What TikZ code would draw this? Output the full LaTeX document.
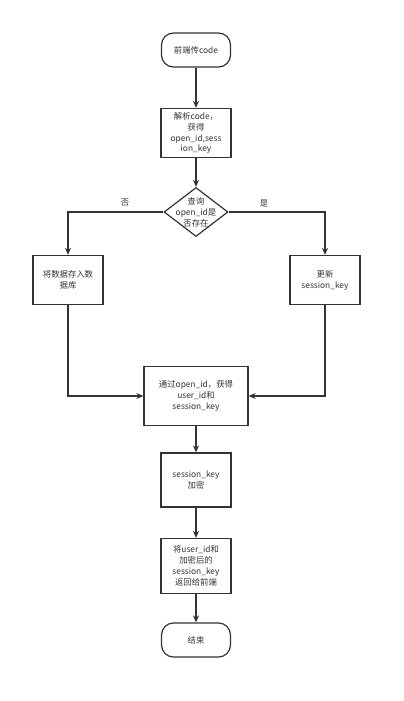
\documentclass[tikz,border=0pt]{standalone}
\usepackage{fontspec}
\setmainfont{Noto Sans CJK SC}
\usetikzlibrary{shapes.geometric,arrows.meta}
\definecolor{ln}{HTML}{333333}
\definecolor{tx}{HTML}{333333}
\begin{document}
\begin{tikzpicture}[x=1bp,y=-1bp,
  every node/.style={font=\fontsize{8.4}{11}\selectfont, text=tx, align=center, inner sep=0pt},
  term/.style={draw=ln, line width=1.2bp, rounded corners=12bp, minimum width=69bp, minimum height=34bp},
  proc/.style={draw=ln, line width=1.2bp, minimum width=70bp, minimum height=49bp},
  conn/.style={draw=ln, line width=1.2bp, -{Stealth[length=7bp,width=6bp]}},
  lab/.style={font=\fontsize{8.4}{10}\selectfont}]
\useasboundingbox (0,0) rectangle (403,701);
\node[term] (start) at (196,50) {前端传code};
\node[proc] (parse) at (196,133) {解析code，\\获得\\open\_id,sess\\ion\_key};
\node[draw=ln, line width=1.2bp, shape=diamond, minimum width=64bp, minimum height=49bp, aspect=1.3, inner sep=0pt] (q) at (196,212) {};
\node (qt) at (196,212) {查询\\open\_id是\\否存在};
\node[proc] (save) at (68,280) {将数据存入数\\据库};
\node[proc] (upd) at (325,280) {更新\\session\_key};
\node[proc, minimum width=104bp, minimum height=59bp] (get) at (196,396) {通过open\_id，获得\\user\_id和\\session\_key};
\node[proc, minimum height=54bp] (enc) at (196,480) {session\_key\\加密};
\node[proc, minimum height=55bp] (ret) at (196,566) {将user\_id和\\加密后的\\session\_key\\返回给前端};
\node[term] (end) at (196,640) {结束};
\draw[conn] (start) -- (parse);
\draw[conn] (parse) -- (q);
\draw[conn] (q.west) -| (save.north);
\draw[conn] (q.east) -| (upd.north);
\node[lab] (no) at (125,203) {否};
\node[lab] (yes) at (264,203) {是};
\draw[conn] (save.south) |- (get.west);
\draw[conn] (upd.south) |- (get.east);
\draw[conn] (get) -- (enc);
\draw[conn] (enc) -- (ret);
\draw[conn] (ret) -- (end);
\end{tikzpicture}
\end{document}
